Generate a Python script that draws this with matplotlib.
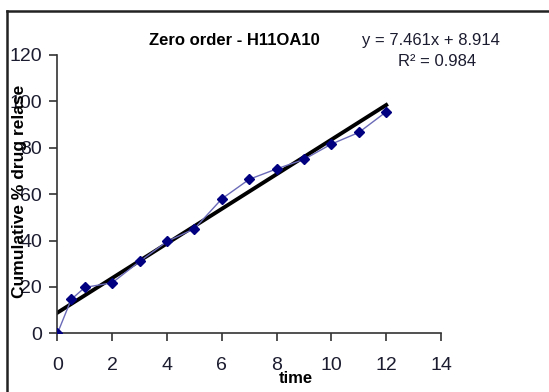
import numpy as np
import matplotlib
matplotlib.use('Agg')
import matplotlib.pyplot as plt
from matplotlib.lines import Line2D

# Datos
time = [0, 0.5, 1, 2, 3, 4, 5, 6, 7, 8, 9, 10, 11, 12]
release = [0, 14.6, 19.8, 21.8, 31.0, 39.6, 45.1, 58.0, 66.4, 70.9, 75.0, 81.6, 86.6, 95.5]
slope, intercept = 7.461, 8.914
r2 = 0.984
xticks = [0, 2, 4, 6, 8, 10, 12, 14]
yticks = [0, 20, 40, 60, 80, 100, 120]

plt.rcParams['font.family'] = ['Liberation Sans', 'DejaVu Sans']

fig = plt.figure(figsize=(5.49, 3.92), dpi=100)
ax = fig.add_axes([0.1047, 0.1497, 0.6986, 0.71])

# Serie de datos y linea de tendencia
ax.plot(time, release, color='#6a6ab8', lw=1, marker='D', markersize=5.5,
        markerfacecolor='#000080', markeredgecolor='#000080', zorder=3)
xt = np.array([time[0], time[-1]])
ax.plot(xt, slope * xt + intercept, color='black', lw=2.8, zorder=2)

ax.set_xlim(0, 14)
ax.set_ylim(0, 120)
ax.set_xticks(xticks)
ax.set_yticks(yticks)
ax.spines['top'].set_visible(False)
ax.spines['right'].set_visible(False)
for s in ['left', 'bottom']:
    ax.spines[s].set_color('#333333')
    ax.spines[s].set_linewidth(1.2)
ax.tick_params(axis='both', labelsize=14, labelcolor='#1c1c30', color='#333333',
               length=6, width=1.2)
ax.tick_params(axis='x', pad=11)
ax.tick_params(axis='y', pad=5)

ax.set_xlabel('time', fontsize=12, fontweight='bold')
ax.xaxis.set_label_coords(0.622, -0.135)
ax.set_ylabel('Cumulative % drug relase', fontsize=12.5, fontweight='bold')
ax.yaxis.set_label_coords(-0.08, 0.511)
ax.set_title('Zero order - H11OA10', fontsize=12, fontweight='bold', x=0.46, pad=7)

fig.text(0.91, 0.897, 'y = %.3fx + %.3f' % (slope, intercept), fontsize=12,
         ha='right', va='center', color='#1c1c30')
fig.text(0.796, 0.842, 'R² = %.3f' % r2, fontsize=12, ha='center', va='center',
         color='#1c1c30')

# Marco exterior
fig.add_artist(Line2D([7 / 549, 7 / 549], [0, 1 - 11 / 392], transform=fig.transFigure,
                      color='#222222', lw=1.8))
fig.add_artist(Line2D([7 / 549, 1], [1 - 11 / 392, 1 - 11 / 392], transform=fig.transFigure,
                      color='#222222', lw=1.8))

fig.savefig('out.png', dpi=100)
